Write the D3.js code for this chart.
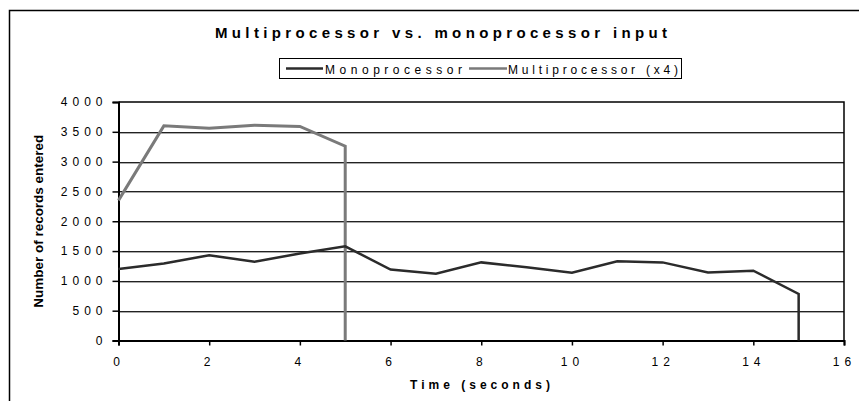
<!DOCTYPE html>
<html>
<head>
<meta charset="utf-8">
<script src="https://cdn.jsdelivr.net/npm/d3@7"></script>
<style>
  body { margin: 0; background: #fff; }
  text { font-family: "Liberation Sans", Arial, sans-serif; fill: #000; }
</style>
</head>
<body>
<svg width="859" height="401"></svg>
<script>
// data
var seconds = [0, 1, 2, 3, 4, 5, 6, 7, 8, 9, 10, 11, 12, 13, 14, 15];
var mono = [1200, 1290, 1430, 1320, 1460, 1580, 1190, 1120, 1310, 1230, 1135, 1330, 1310, 1140, 1170, 780];
var multiSeconds = [0, 1, 2, 3, 4, 5];
var multi = [2350, 3600, 3560, 3610, 3590, 3260];
var xTicks = [0, 2, 4, 6, 8, 10, 12, 14, 16];
var yTicks = [0, 500, 1000, 1500, 2000, 2500, 3000, 3500, 4000];

var svg = d3.select("svg"),
    plotL = 118.5, plotR = 844, plotT = 102, plotB = 340.5;

var x = d3.scaleLinear().domain([0, 16]).range([plotL, plotR]);
var y = d3.scaleLinear().domain([0, 4000]).range([plotB, plotT]);

// outer chart frame (cut off at right and bottom)
svg.append("path")
    .attr("d", "M9.5,401V10.5H859")
    .style("fill", "none").style("stroke", "#000").style("stroke-width", 1.5);

// title
svg.append("text")
    .attr("x", 441).attr("y", 38)
    .attr("text-anchor", "middle")
    .style("font-size", "15px").style("font-weight", "bold")
    .attr("textLength", 452).attr("lengthAdjust", "spacing")
    .text("Multiprocessor vs. monoprocessor input");

// gridlines
var grid = svg.append("g");
grid.selectAll(".g1")
    .data(yTicks.slice(1, -1))
    .enter().append("line")
    .attr("x1", plotL).attr("x2", plotR)
    .attr("y1", function(d) { return Math.round(y(d)) + 0.5; })
    .attr("y2", function(d) { return Math.round(y(d)) + 0.5; })
    .style("stroke", "#222").style("stroke-width", 1);
grid.selectAll(".g2")
    .data(yTicks.slice(1, -1))
    .enter().append("line")
    .attr("x1", plotL).attr("x2", plotR)
    .attr("y1", function(d) { return Math.round(y(d)) + 1.5; })
    .attr("y2", function(d) { return Math.round(y(d)) + 1.5; })
    .style("stroke", "#aaa").style("stroke-width", 1);

// plot frame
svg.append("path")
    .attr("d", "M" + plotL + "," + plotT + "H" + plotR + "V" + plotB)
    .style("fill", "none").style("stroke", "#000").style("stroke-width", 1.5);

// axes
var xAxis = svg.append("g")
    .attr("transform", "translate(0," + plotB + ")")
    .call(d3.axisBottom(x).tickValues(xTicks).tickSize(5).tickPadding(12));
var yAxis = svg.append("g")
    .attr("transform", "translate(" + plotL + ",0)")
    .call(d3.axisLeft(y).tickValues(yTicks).tickSize(6).tickPadding(10).tickFormat(d3.format("d")));

[xAxis, yAxis].forEach(function(a) {
  a.select(".domain").style("stroke", "#000").style("stroke-width", 2);
  a.selectAll(".tick line").style("stroke", "#000").style("stroke-width", 1.5);
  a.selectAll("text")
      .style("font-family", "Liberation Sans, Arial, sans-serif")
      .style("font-size", "12px").style("letter-spacing", "5px").style("fill", "#000");
});
yAxis.selectAll("text").attr("dx", "5px");

// axis titles
svg.append("text")
    .attr("x", 480).attr("y", 388.5)
    .attr("text-anchor", "middle")
    .style("font-size", "12px").style("font-weight", "bold")
    .attr("textLength", 140).attr("lengthAdjust", "spacing")
    .text("Time (seconds)");

svg.append("text")
    .attr("transform", "translate(43," + ((plotT + plotB) / 2) + ") rotate(-90)")
    .attr("text-anchor", "middle")
    .style("font-size", "13px").style("font-weight", "bold")
    .attr("textLength", 173).attr("lengthAdjust", "spacingAndGlyphs")
    .text("Number of records entered");

// lines
var line = d3.line()
    .x(function(d) { return x(d[0]); })
    .y(function(d) { return y(d[1]); });

var multiPts = multiSeconds.map(function(s, i) { return [s, multi[i]]; });
multiPts.push([multiSeconds[multiSeconds.length - 1], 0]);
var monoPts = seconds.map(function(s, i) { return [s, mono[i]]; });
monoPts.push([seconds[seconds.length - 1], 0]);

svg.append("path")
    .attr("d", line(multiPts))
    .style("fill", "none").style("stroke", "#7a7a7a").style("stroke-width", 3);
svg.append("path")
    .attr("d", line(monoPts))
    .style("fill", "none").style("stroke", "#2b2b2b").style("stroke-width", 2.5);

// legend
var lg = svg.append("g");
lg.append("rect")
    .attr("x", 279.5).attr("y", 58.5).attr("width", 402).attr("height", 20)
    .style("fill", "#fff").style("stroke", "#000").style("stroke-width", 1);
lg.append("line").attr("x1", 286).attr("x2", 323).attr("y1", 68.5).attr("y2", 68.5)
    .style("stroke", "#2b2b2b").style("stroke-width", 2.5);
lg.append("text").attr("x", 325).attr("y", 74)
    .style("font-size", "12px")
    .attr("textLength", 137).attr("lengthAdjust", "spacing")
    .text("Monoprocessor");
lg.append("line").attr("x1", 469).attr("x2", 507).attr("y1", 68.5).attr("y2", 68.5)
    .style("stroke", "#7a7a7a").style("stroke-width", 2.5);
lg.append("text").attr("x", 508).attr("y", 74)
    .style("font-size", "12px")
    .attr("textLength", 170).attr("lengthAdjust", "spacing")
    .text("Multiprocessor (x4)");
</script>
</body>
</html>
